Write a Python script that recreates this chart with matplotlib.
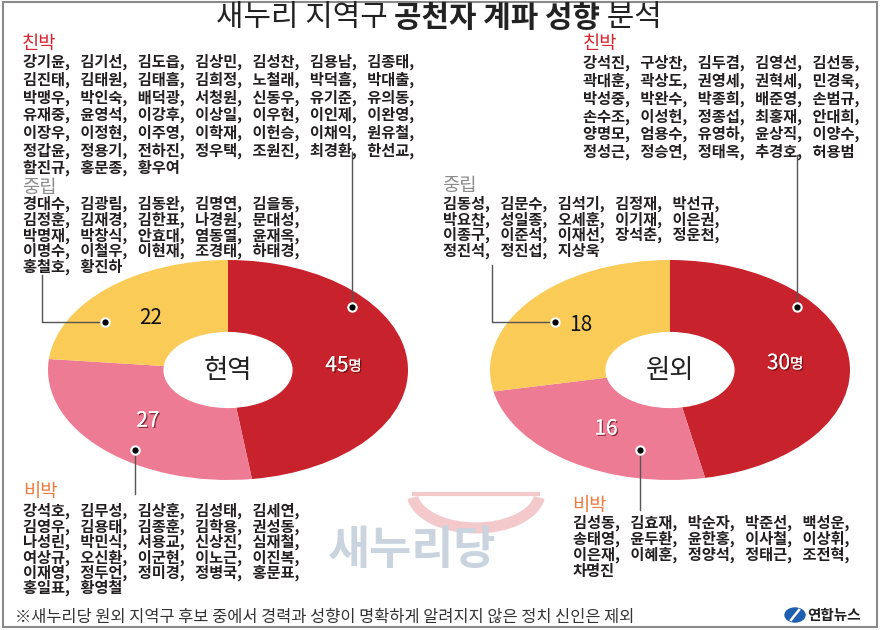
import numpy as np
import matplotlib
matplotlib.use("Agg")
import matplotlib.pyplot as plt
import matplotlib.patheffects as pe
from matplotlib.patches import Ellipse, Rectangle, Arc

plt.rcParams['font.family'] = ['Noto Sans CJK KR', 'DejaVu Sans']

# datos
grupos = ['친박', '비박', '중립']
hyeonyeok = [45, 27, 22]
wonoe = [30, 16, 18]

hy_chinbak = ['강기윤', '김기선', '김도읍', '김상민', '김성찬', '김용남', '김종태',
              '김진태', '김태원', '김태흠', '김희정', '노철래', '박덕흠', '박대출',
              '박맹우', '박인숙', '배덕광', '서청원', '신동우', '유기준', '유의동',
              '유재중', '윤영석', '이강후', '이상일', '이우현', '이인제', '이완영',
              '이장우', '이정현', '이주영', '이학재', '이헌승', '이채익', '원유철',
              '정갑윤', '정용기', '전하진', '정우택', '조원진', '최경환', '한선교',
              '함진규', '홍문종', '황우여']
hy_jungrip = ['경대수', '김광림', '김동완', '김명연', '김을동',
              '김정훈', '김재경', '김한표', '나경원', '문대성',
              '박명재', '박창식', '안효대', '염동열', '윤재옥',
              '이명수', '이철우', '이현재', '조경태', '하태경',
              '홍철호', '황진하']
hy_bibak = ['강석호', '김무성', '김상훈', '김성태', '김세연',
            '김영우', '김용태', '김종훈', '김학용', '권성동',
            '나성린', '박민식', '서용교', '신상진', '심재철',
            '여상규', '오신환', '이군현', '이노근', '이진복',
            '이재영', '정두언', '정미경', '정병국', '홍문표',
            '홍일표', '황영철']
wo_chinbak = ['강석진', '구상찬', '김두겸', '김영선', '김선동',
              '곽대훈', '곽상도', '권영세', '권혁세', '민경욱',
              '박성중', '박완수', '박종희', '배준영', '손범규',
              '손수조', '이성헌', '정종섭', '최홍재', '안대희',
              '양명모', '엄용수', '유영하', '윤상직', '이양수',
              '정성근', '정승연', '정태옥', '추경호', '허용범']
wo_jungrip = ['김동성', '김문수', '김석기', '김정재', '박선규',
              '박요찬', '성일종', '오세훈', '이기재', '이은권',
              '이종구', '이준석', '이재선', '장석춘', '정운천',
              '정진석', '정진섭', '지상욱']
wo_bibak = ['김성동', '김효재', '박순자', '박준선', '백성운',
            '송태영', '윤두환', '윤한홍', '이사철', '이상휘',
            '이은재', '이혜훈', '정양석', '정태근', '조전혁',
            '차명진']

colores = ['#C8232C', '#EE7B94', '#FBCB57']
color_num = ['white', 'white', '#111111']
color_cab = {'친박': '#D7262E', '중립': '#8C8C8C', '비박': '#F07B3B'}

W, H = 880, 630
fig = plt.figure(figsize=(W / 100, H / 100), dpi=100)
fig.patch.set_facecolor('white')

sombra = [pe.withSimplePatchShadow(offset=(1, -1), shadow_rgbFace='#3a0000', alpha=0.6), pe.Normal()]


def dona(x0, y0, w, h, valores, etiqueta):
    ax = fig.add_axes([x0 / W, 1 - (y0 + h) / H, w / W, h / H])
    wedges, _ = ax.pie(valores, colors=colores, startangle=90, counterclock=False,
                       wedgeprops=dict(linewidth=0))
    ax.set_aspect('auto')
    ax.set_xlim(-1, 1)
    ax.set_ylim(-1, 1)
    ax.patch.set_visible(False)
    ax.add_patch(Ellipse((0, 0), 0.71, 0.68, color='white', zorder=3))
    ax.text(0, 0, etiqueta, fontsize=19, ha='center', va='center', color='#222222', zorder=4)
    for k, (wd, v) in enumerate(zip(wedges, valores)):
        ang = np.deg2rad((wd.theta1 + wd.theta2) / 2)
        x, y = 0.64 * np.cos(ang), 0.64 * np.sin(ang)
        efx = sombra if color_num[k] == 'white' else None
        if k == 0:
            t = ax.text(x + 0.03, y, str(v), fontsize=15, ha='right', va='center',
                        color=color_num[k], path_effects=efx, zorder=4)
            ax.annotate('명', xy=(1, 0.12), xycoords=t, ha='left', va='bottom',
                        fontsize=10.5, color=color_num[k], path_effects=efx, zorder=4)
        else:
            ax.text(x, y, str(v), fontsize=15, ha='center', va='center',
                    color=color_num[k], path_effects=efx, zorder=4)
    return ax


dona(48, 260, 360, 220, hyeonyeok, '현역')
dona(490, 260, 360, 220, wonoe, '원외')

ax = fig.add_axes([0, 0, 1, 1])
ax.set_xlim(0, W)
ax.set_ylim(H, 0)
ax.axis('off')
ax.patch.set_visible(False)

# marco
ax.add_patch(Rectangle((3, 2), 874, 625, fill=False, ec='#8a8a8a', lw=1.5))

# titulo
t1 = ax.text(216, 18, '새누리 지역구 ', fontsize=21.5, ha='left', va='center', color='#222222')
t2 = ax.annotate('공천자 계파 성향', xy=(1, 0), xycoords=t1, ha='left', va='bottom',
                 fontsize=21.5, fontweight='bold', color='#222222')
ax.annotate(' 분석', xy=(1, 0), xycoords=t2, ha='left', va='bottom',
            fontsize=21.5, color='#222222')


def cabecera(x, y, s):
    ax.text(x, y, s, fontsize=13.5, ha='left', va='center', color=color_cab[s])


def bloque(nombres, x, y, por_linea, ls, sep=',   '):
    filas = []
    for i in range(0, len(nombres), por_linea):
        filas.append(sep.join(nombres[i:i + por_linea]))
    s = ',\n'.join(filas)
    ax.text(x, y, s, fontsize=11, fontweight='bold', linespacing=ls,
            ha='left', va='top', color='#231F20')


cabecera(22, 43, '친박')
bloque(hy_chinbak, 23, 54, 7, 1.09)
cabecera(22, 187, '중립')
bloque(hy_jungrip, 23, 196, 5, 0.94)
cabecera(23, 492, '비박')
bloque(hy_bibak, 23, 503, 5, 0.92)

cabecera(583, 43, '친박')
bloque(wo_chinbak, 583, 55, 5, 1.1)
cabecera(442, 186, '중립')
bloque(wo_jungrip, 443, 196, 5, 0.93)
cabecera(572, 505, '비박')
bloque(wo_bibak, 573, 515, 5, 0.96)

# lineas guia
guias = [[(352, 152), (352, 307)],
         [(42, 275), (42, 322), (105, 322)],
         [(135, 494), (135, 450)],
         [(797, 155), (797, 307)],
         [(492, 265), (492, 322), (555, 322)],
         [(640, 510), (640, 450)]]
for g in guias:
    g = np.array(g)
    ax.plot(g[:, 0], g[:, 1], color='#555555', lw=1)
    ax.plot(g[-1, 0], g[-1, 1], 'o', ms=6, mfc='black', mec='white', mew=1.5)

# marca de agua
ax.add_patch(Arc((476, 492), 128, 72, theta1=5, theta2=175, color='#F3C9CC', lw=8))
ax.plot([414, 538], [494, 494], color='#F3C9CC', lw=3)
ax.text(412, 551, '새누리당', fontsize=33, fontweight='bold', ha='center', va='center',
        color='#C9D4DF')

# nota al pie
nota = '※새누리당 원외 지역구 후보 중에서 경력과 성향이 명확하게 알려지지 않은 정치 신인은 제외'
ax.text(15, 617, nota, fontsize=11.8, style='italic', ha='left', va='center', color='#333333')

# logo
ax.add_patch(Ellipse((795, 615), 20, 14, color='#1F5FB0'))
ax.plot([791, 799], [620, 610], color='white', lw=1.8)
ax.text(807, 615, '연합뉴스', fontsize=10.5, fontweight='bold', ha='left', va='center', color='#222222')

fig.savefig('out.png', dpi=100)
